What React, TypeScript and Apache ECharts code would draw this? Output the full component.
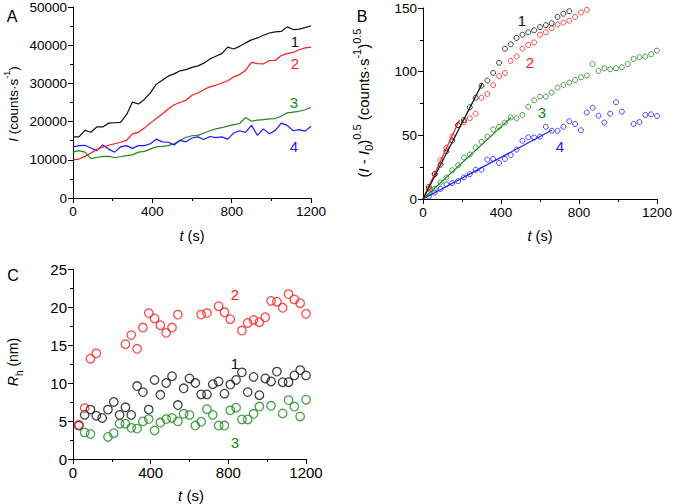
import React, { useEffect, useRef } from 'react';
import * as echarts from 'echarts';

// ---------- Panel A: intensity vs time ----------
const tA = [0, 30, 60, 90, 120, 150, 180, 210, 240, 270, 300, 330, 360, 390, 420, 450, 480, 510, 540, 570, 600, 630, 660, 690, 720, 750, 780, 810, 840, 870, 900, 930, 960, 990, 1020, 1050, 1080, 1110, 1140, 1170, 1200];
const A1 = [16000, 16000, 17700, 17200, 18600, 18600, 19600, 19700, 19800, 21800, 25100, 24600, 25800, 27500, 29800, 30800, 31900, 32500, 33300, 33600, 34200, 34600, 35300, 36400, 37100, 37800, 39500, 39000, 39700, 40600, 41400, 41900, 42600, 43200, 43500, 43600, 44800, 44100, 44200, 44600, 45100];
const A2 = [10000, 10200, 10900, 11800, 12700, 13300, 13800, 14200, 14600, 15100, 16800, 17200, 18300, 19600, 20800, 22000, 23300, 24400, 25000, 25600, 26900, 27500, 28400, 29100, 29500, 30100, 30700, 31700, 32300, 33400, 35500, 35200, 35100, 36000, 36000, 37300, 37800, 38100, 38800, 39300, 39500];
const A3 = [12000, 12400, 12000, 10300, 10600, 10900, 10900, 10600, 10800, 11100, 11300, 12000, 12200, 12800, 13400, 13500, 13700, 14200, 15100, 15900, 16300, 16400, 17000, 17600, 18100, 18400, 18800, 19200, 19500, 21100, 20100, 20400, 20500, 20700, 20800, 21400, 22300, 22500, 22700, 23100, 23700];
const A4 = [13400, 13700, 13800, 13100, 12400, 13900, 12800, 12000, 13400, 13700, 13000, 13700, 13700, 14200, 15400, 14700, 14600, 13900, 15100, 14700, 15700, 16000, 15300, 16100, 15800, 16000, 15400, 17000, 17600, 17200, 19000, 16400, 18100, 16800, 17700, 19600, 19000, 17600, 17900, 17500, 18800];

// ---------- Panel B: (I - I0)^0.5 vs time ----------
const tB1 = [30, 60, 90, 120, 150, 180, 210, 240, 270, 300, 330, 360, 390, 420, 450, 480, 510, 540, 570, 600, 630, 660, 690, 720, 750];
const B1 = [9.5, 19.5, 27, 37.5, 46, 58, 62, 72, 79.5, 89, 93, 99, 107, 118, 121.5, 126.5, 129, 131, 132.5, 135, 136.5, 138, 143, 145.5, 147.5];
const tB2 = [30, 60, 90, 120, 150, 180, 210, 240, 270, 300, 330, 360, 390, 420, 450, 480, 510, 540, 570, 600, 630, 660, 690, 720, 750, 780, 810, 840];
const B2 = [8, 19.5, 30.5, 40, 49, 58, 60.5, 63.5, 67, 79.5, 82.5, 89.5, 96.5, 99, 108.5, 112, 118, 121, 123, 129, 131, 134, 137, 138.5, 140, 143, 146.5, 148.5];
const tB3 = [30, 60, 90, 120, 150, 180, 210, 240, 270, 300, 330, 360, 390, 420, 450, 480, 510, 540, 570, 600, 630, 660, 690, 720, 750, 780, 810, 840, 870, 900, 930, 960, 990, 1020, 1050, 1080, 1110, 1140, 1170, 1200];
const B3 = [4.7, 8, 13, 17, 22.6, 26.5, 32.6, 35, 40.5, 45, 49, 54.6, 56.7, 60, 64, 63.3, 66, 72.5, 77.5, 80.4, 80.4, 83.5, 87.5, 89.6, 91.4, 93.5, 95.6, 97, 106, 100.6, 102.7, 101.9, 102.7, 103.5, 106, 110, 111.4, 111.9, 113.8, 116.5];
const tB4 = [30, 60, 90, 120, 150, 180, 210, 240, 270, 300, 330, 360, 390, 420, 450, 480, 510, 540, 570, 600, 630, 660, 690, 720, 750, 780, 810, 840, 870, 900, 930, 960, 990, 1020, 1080, 1110, 1140, 1170, 1200];
const B4 = [2, 5, 7.9, 11.5, 12.5, 14, 17, 19.5, 23, 23, 31, 31.5, 28.3, 31.5, 34.5, 38.8, 45.7, 48.5, 48.3, 49, 56.7, 53.6, 53.6, 56.7, 61, 58.9, 54, 68, 71.7, 65.4, 60, 67, 76, 68.6, 58.9, 60.4, 66, 66.5, 65.2];
// linear fits (start and end points)
const fitB1 = [[0, 0], [305, 91]];
const fitB2 = [[0, 0], [187, 62]];
const fitB3 = [[0, 0], [452, 64]];
const fitB4 = [[0, 0], [660, 54]];

// ---------- Panel C: hydrodynamic radius vs time ----------
const tC1 = [30, 60, 90, 120, 150, 180, 210, 240, 270, 300, 330, 360, 390, 420, 450, 480, 510, 540, 570, 600, 630, 660, 690, 720, 750, 780, 810, 840, 870, 900, 930, 960, 990, 1020, 1050, 1080, 1110, 1140, 1170, 1200];
const C1 = [4.4, 5.8, 6.5, 5.7, 5.4, 6.5, 7.5, 5.8, 6.8, 5.8, 9.6, 8.8, 6.5, 10.4, 8.45, 10.0, 10.9, 7.1, 9.3, 10.6, 10.0, 8.5, 8.5, 9.85, 10.2, 8.6, 9.8, 10.4, 11.4, 8.8, 10.8, 8.4, 10.6, 10.2, 11.5, 10.1, 10.1, 11.0, 11.7, 11.0];
const tC2 = [30, 60, 90, 120, 270, 300, 330, 360, 390, 420, 450, 480, 510, 540, 660, 690, 750, 780, 810, 870, 900, 930, 960, 990, 1020, 1050, 1080, 1110, 1140, 1170, 1200];
const C2 = [4.5, 6.7, 13.2, 13.9, 15.1, 16.3, 14.5, 17.3, 19.2, 18.5, 17.6, 16.6, 17.3, 19.0, 19.0, 19.2, 20.1, 19.3, 18.4, 16.9, 17.9, 18.3, 18.0, 18.65, 20.8, 20.7, 19.9, 21.7, 21.0, 20.5, 19.1];
const tC3 = [60, 90, 180, 210, 240, 270, 300, 330, 360, 390, 420, 450, 480, 510, 540, 570, 600, 630, 660, 690, 720, 750, 780, 810, 840, 870, 900, 930, 960, 1020, 1080, 1110, 1140, 1170, 1200];
const C3 = [3.5, 3.3, 2.9, 3.4, 4.65, 4.65, 4.1, 4.0, 4.95, 5.25, 3.75, 4.8, 5.25, 5.4, 4.95, 5.95, 5.8, 4.4, 4.9, 6.55, 5.8, 4.4, 4.4, 6.4, 6.75, 5.2, 5.2, 5.95, 6.9, 7.0, 6.0, 7.75, 6.9, 5.6, 7.8];

const FONT = 'Arial, "Liberation Sans", Helvetica, sans-serif';
const BLACK = '#111111';
const RED = '#ff1a1a';
const GREEN = '#1a8a1a';
const BLUE = '#1a1aff';

const zip = (t: number[], v: number[]) => t.map((x, i) => [x, v[i]]);

function valueAxis(gridIndex: number, min: number, max: number, interval: number, fontSize: number) {
  return {
    type: 'value',
    gridIndex,
    min,
    max,
    interval,
    axisLine: { show: true, onZero: false, lineStyle: { color: '#000', width: 1 } },
    axisTick: { show: true, length: 5, inside: false, lineStyle: { color: '#000', width: 1 } },
    minorTick: { show: true, splitNumber: 2, length: 3, lineStyle: { color: '#000', width: 1 } },
    splitLine: { show: false },
    minorSplitLine: { show: false },
    axisLabel: {
      color: '#000',
      fontSize,
      fontFamily: FONT,
      margin: 6,
      formatter: (v: number) => String(v),
    },
  };
}

const lineA = (data: number[], color: string) => ({
  type: 'line',
  xAxisIndex: 0,
  yAxisIndex: 0,
  data: zip(tA, data),
  showSymbol: false,
  symbol: 'none',
  lineStyle: { color, width: 1.2 },
  itemStyle: { color },
});

const scatter = (idx: number, t: number[], v: number[], color: string, size: number, bw: number) => ({
  type: 'scatter',
  xAxisIndex: idx,
  yAxisIndex: idx,
  data: zip(t, v),
  symbol: 'circle',
  symbolSize: size,
  itemStyle: { color: 'rgba(0,0,0,0)', borderColor: color, borderWidth: bw },
});

const fitLine = (data: number[][], color: string) => ({
  type: 'line',
  xAxisIndex: 1,
  yAxisIndex: 1,
  data,
  showSymbol: false,
  symbol: 'none',
  lineStyle: { color, width: 1.2 },
  itemStyle: { color },
  z: 5,
});

const rich = (fs: number) => ({
  n: { fontSize: fs, fontFamily: FONT, fill: '#000', lineHeight: fs + 8, verticalAlign: 'middle' },
  i: { fontSize: fs, fontFamily: FONT, fontStyle: 'italic', fill: '#000', lineHeight: fs + 8, verticalAlign: 'middle' },
  sup: { fontSize: Math.round(fs * 0.7), fontFamily: FONT, fill: '#000', lineHeight: Math.round(fs * 0.85), verticalAlign: 'top' },
  sub: { fontSize: Math.round(fs * 0.7), fontFamily: FONT, fill: '#000', lineHeight: Math.round(fs * 0.85), verticalAlign: 'bottom' },
});

const vText = (x: number, y: number, text: string, fs: number) => ({
  type: 'text',
  x,
  y,
  rotation: Math.PI / 2,
  style: { text, rich: rich(fs), align: 'center', verticalAlign: 'middle', fontSize: fs, fontFamily: FONT, fill: '#000' },
});

const hText = (x: number, y: number, text: string, color = '#000', size = 14) => ({
  type: 'text',
  x,
  y,
  style: { text, align: 'center', verticalAlign: 'middle', fontSize: size, fontFamily: FONT, fill: color },
});

const xTitle = (x: number, y: number, fs: number) => ({
  type: 'text',
  x,
  y,
  style: {
    text: '{i|t}{n| (s)}',
    rich: {
      i: { fontSize: fs, fontFamily: FONT, fontStyle: 'italic', fill: '#000' },
      n: { fontSize: fs, fontFamily: FONT, fill: '#000' },
    },
    align: 'center',
    verticalAlign: 'middle',
  },
});

const option: any = {
  animation: false,
  backgroundColor: '#ffffff',
  grid: [
    { left: 73, top: 7, width: 238, height: 191 },
    { left: 423, top: 8, width: 235, height: 191 },
    { left: 73, top: 269, width: 233, height: 190 },
  ],
  xAxis: [
    valueAxis(0, 0, 1200, 400, 13.5),
    valueAxis(1, 0, 1200, 400, 13.5),
    valueAxis(2, 0, 1200, 400, 15),
  ],
  yAxis: [
    valueAxis(0, 0, 50000, 10000, 13.5),
    valueAxis(1, 0, 150, 50, 13.5),
    valueAxis(2, 0, 25, 5, 15),
  ],
  series: [
    lineA(A3, GREEN),
    lineA(A4, BLUE),
    lineA(A2, RED),
    lineA(A1, BLACK),
    scatter(1, tB4, B4, BLUE, 5, 1),
    scatter(1, tB3, B3, GREEN, 5, 1),
    scatter(1, tB2, B2, RED, 5, 1),
    scatter(1, tB1, B1, BLACK, 5, 1),
    fitLine(fitB4, BLUE),
    fitLine(fitB3, GREEN),
    fitLine(fitB2, RED),
    fitLine(fitB1, BLACK),
    scatter(2, tC1, C1, BLACK, 8.5, 1.3),
    scatter(2, tC3, C3, GREEN, 8.5, 1.3),
    scatter(2, tC2, C2, RED, 8.5, 1.3),
  ],
  graphic: [
    hText(12, 16, 'A', '#000', 16),
    hText(362, 16, 'B', '#000', 16),
    hText(13, 275, 'C', '#000', 16),
    vText(13, 104, '{i|I}{n| (counts·s}{sup|-1}{n|)}', 13.5),
    vText(363, 103, '{n|(}{i|I}{n| - }{i|I}{sub|0}{n|)}{sup|0.5}{n| (counts·s}{sup|-1}{n|)}{sup|0.5}', 15),
    vText(13, 362, '{i|R}{sub|h}{n| (nm)}', 14),
    xTitle(192, 236, 14.5),
    xTitle(540, 236, 14.5),
    xTitle(191, 495, 15),
    hText(295, 41, '1', BLACK, 15),
    hText(295, 63, '2', RED, 15),
    hText(294, 102, '3', GREEN, 15),
    hText(294, 146, '4', BLUE, 15),
    hText(522, 20, '1', BLACK, 15),
    hText(530, 62, '2', RED, 15),
    hText(542, 112, '3', GREEN, 15),
    hText(560, 146, '4', BLUE, 15),
    hText(235, 294, '2', RED, 15),
    hText(235, 363, '1', BLACK, 15),
    hText(235, 442, '3', GREEN, 15),
  ],
};

export default function App() {
  const ref = useRef<HTMLDivElement>(null);
  useEffect(() => {
    if (!ref.current) return;
    const chart = echarts.init(ref.current, null, { renderer: 'svg' });
    chart.setOption(option);
    return () => chart.dispose();
  }, []);
  return (
    <div
      ref={ref}
      style={{ position: 'absolute', left: 0, top: 0, width: 675, height: 504, background: '#fff' }}
    />
  );
}
